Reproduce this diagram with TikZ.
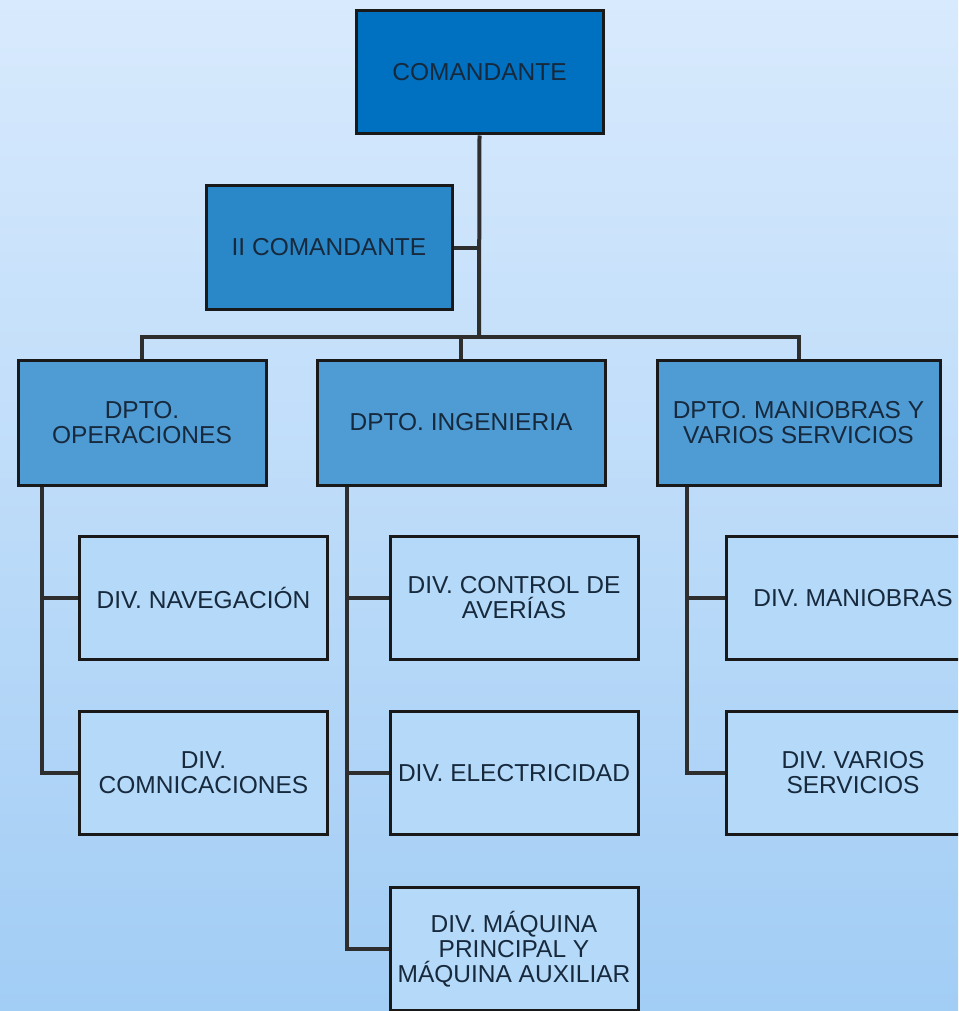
\documentclass[tikz,border=0pt]{standalone}
\usepackage{fontspec}
\setmainfont{Liberation Sans}
\usepackage{xcolor}
\usetikzlibrary{positioning}
\definecolor{bgtop}{HTML}{D8EAFD}
\definecolor{bgbot}{HTML}{A2CDF5}
\definecolor{cmdblue}{HTML}{0070C0}
\definecolor{secblue}{HTML}{2B88C8}
\definecolor{dptblue}{HTML}{4F9BD4}
\definecolor{divfill}{HTML}{B5D9F8}
\definecolor{txt}{HTML}{17293C}
\definecolor{wire}{HTML}{2E2E2E}
\tikzset{
	basic/.style= {draw=black!90, line width=3pt, rectangle, text=txt, align=center,
		font=\fontsize{24.5}{25}\selectfont, inner sep=1pt},
	root/.style = {basic, fill=cmdblue, minimum width=247pt, minimum height=123pt},
	second/.style = {basic, fill=secblue, minimum width=246pt, minimum height=123pt},
	dept/.style = {basic, fill=dptblue, minimum height=125pt},
	div/.style = {basic, fill=divfill, minimum width=248pt, minimum height=123pt},
	conn/.style = {draw=wire, line width=4pt}
}
\begin{document}
\begin{tikzpicture}[x=1pt,y=-1pt]
	\useasboundingbox (0,0) rectangle (958,1011);
	\clip (0,0) rectangle (958,1011);
	\shade[top color=bgtop, bottom color=bgbot] (0,0) rectangle (958,1011);
	% top of the chart
	\node[root] (cmd) at (479.5,72.5) {COMANDANTE};
	\node[second] (cmd2) at (329,247.5) {II COMANDANTE};
	% departments
	\node[dept, minimum width=248pt] (dop) at (142,422.5) {DPTO.\\OPERACIONES};
	\node[dept, minimum width=288pt] (ding) at (461,422.5) {DPTO. INGENIERIA};
	\node[dept, minimum width=283pt] (dman) at (798.5,422.5) {DPTO. MANIOBRAS Y\\VARIOS SERVICIOS};
	% divisions
	\node[div] (nav) at (203.5,598) {DIV. NAVEGACIÓN};
	\node[div] (com) at (203.5,773) {DIV.\\COMNICACIONES};
	\node[div] (ave) at (514,598) {DIV. CONTROL DE\\AVERÍAS};
	\node[div] (ele) at (514,773) {DIV. ELECTRICIDAD};
	\node[div] (maq) at (514,949) {DIV. MÁQUINA\\PRINCIPAL Y\\MÁQUINA AUXILIAR};
	\node[div, minimum width=254pt] (man) at (853,598) {DIV. MANIOBRAS};
	\node[div, minimum width=254pt] (var) at (853,773) {DIV. VARIOS\\SERVICIOS};
	% connectors
	\coordinate (bus) at (479,337);
	\draw[conn] (cmd.south) -- (bus);
	\draw[conn] (cmd2.east) -- (cmd2.east -| bus);
	\draw[conn] (dop.north) |- (bus) -| (dman.north);
	\draw[conn] (ding.north) -- (ding.north |- bus);
	\coordinate (s1) at ([xshift=25pt]dop.south west);
	\coordinate (s2) at ([xshift=31pt]ding.south west);
	\coordinate (s3) at ([xshift=31pt]dman.south west);
	\draw[conn] (s1) |- (com.west);
	\draw[conn] (nav.west) -- (nav.west -| s1);
	\draw[conn] (s2) |- (maq.west);
	\draw[conn] (ave.west) -- (ave.west -| s2);
	\draw[conn] (ele.west) -- (ele.west -| s2);
	\draw[conn] (s3) |- (var.west);
	\draw[conn] (man.west) -- (man.west -| s3);
\end{tikzpicture}
\end{document}
